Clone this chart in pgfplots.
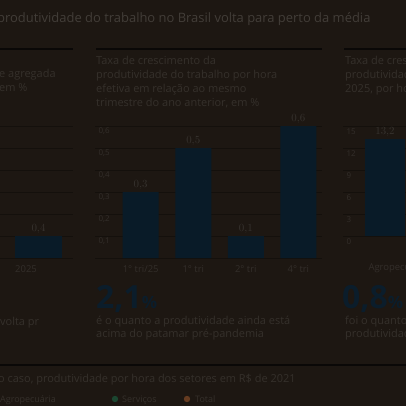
\documentclass[border=0pt]{standalone}
\usepackage{pgfplots}
\pgfplotsset{compat=1.18}
\usepackage{fontspec}
\setmainfont{Open Sans}
\definecolor{bg}{HTML}{1D1712}
\definecolor{gridc}{HTML}{14100C}
\definecolor{rulec}{HTML}{0A0807}
\definecolor{titlec}{HTML}{423D38}
\definecolor{textc}{HTML}{35302B}
\definecolor{tickc}{HTML}{332E2A}
\definecolor{valc}{HTML}{37332F}
\definecolor{barc}{HTML}{091B28}
\definecolor{bigc}{HTML}{0B1D2B}
\definecolor{greenc}{HTML}{1B4630}
\definecolor{orangec}{HTML}{653B20}
\newcommand{\T}[4][]{\node[anchor=base west,inner sep=0,text=textc,font=\fontsize{11}{13}\selectfont,#1] at (#2bp,-#3bp) {#4};}
\newcommand{\R}[4]{\fill[rulec] (#1bp,-#2bp) rectangle (#3bp,-#4bp);}
\pgfplotsset{panel/.style={scale only axis, clip=false,
  axis line style={draw=none}, major tick style={draw=none},
  ymajorgrids, grid style={gridc, line width=0.9bp},
  ybar,
  yticklabel style={anchor=west, yshift=-5.5bp, font=\fontsize{8}{9}\selectfont, text=tickc},
  xticklabel style={font=\fontsize{9.5}{10}\selectfont, text=tickc},
  nodes near coords={\pgfmathprintnumber[use comma,fixed,fixed zerofill,precision=1]{\pgfplotspointmeta}},
  every node near coord/.append style={font=\fontsize{11}{12}\selectfont, text=valc, inner sep=2bp}}}
\begin{document}
\begin{tikzpicture}
\useasboundingbox (0,0) rectangle (406bp,-406bp);
\clip (0,0) rectangle (406bp,-406bp);
\fill[bg] (0,0) rectangle (406bp,-406bp);
% title
\T[text=titlec,font=\fontsize{13}{15}\selectfont]{-3}{22}{produtividade do trabalho no Brasil volta para perto da média}
% top rules
\R{0}{47.5}{73}{49.8}
\R{96}{47.5}{322}{49.8}
\R{344}{47.5}{406}{49.8}
% left panel texts
\T{-1}{77}{e agregada}
\T{-1}{91}{em \%}
% middle panel texts
\T{96}{64}{Taxa de crescimento da}
\T{96}{78}{produtividade do trabalho por hora}
\T{96}{92}{efetiva em relação ao mesmo}
\T{96}{106}{trimestre do ano anterior, em \%}
% right panel texts
\T{345}{64}{Taxa de crescimento da}
\T{345}{78}{produtividade por setor em}
\T{345}{92}{2025, por hora, em \%}
% left axis
\begin{axis}[panel, at={(-50bp,-258bp)}, anchor=south west, width=123bp, height=132bp,
  xmin=0, xmax=123, ymin=0, ymax=2.4, ytick={0,0.4,0.8,1.2,1.6,2.0,2.4}, yticklabels={},
  xtick={76}, xticklabels={2025}, bar width=47bp]
\addplot[fill=barc, draw=none] coordinates {(88.5,0.4)};
\end{axis}
% middle axis
\begin{axis}[panel, at={(95bp,-258bp)}, anchor=south west, width=227bp, height=132bp,
  xmin=-0.87, xmax=3.45, ymin=0, ymax=0.6,
  ytick={0,0.1,0.2,0.3,0.4,0.5,0.6},
  yticklabels={{},{0,1},{0,2},{0,3},{0,4},{0,5},{0,6}},
  xtick={0,1,2,3}, xticklabels={1° tri/25, 1° tri, 2° tri, 4° tri}, bar width=36bp]
\addplot[fill=barc, draw=none] coordinates {(0,0.3) (1,0.5) (2,0.1) (3,0.6)};
\end{axis}
% right axis
\begin{axis}[panel, at={(343bp,-236bp)}, anchor=south west, width=100bp, height=110bp,
  xmin=0, xmax=1, ymin=0, ymax=15,
  ytick={0,3,6,9,12,15}, yticklabels={0,3,6,9,12,15},
  xtick={0.42}, xticklabels={Agropecuária},
  xticklabel style={anchor=north west, xshift=-20bp, yshift=-19bp}, bar width=40bp]
\addplot[fill=barc, draw=none] coordinates {(0.42,13.2)};
\end{axis}
% big numbers
\T[text=bigc,font=\fontsize{32}{34}\selectfont\bfseries]{96}{308}{2,1\fontsize{17}{18}\selectfont\%}
\T[text=bigc,font=\fontsize{32}{34}\selectfont\bfseries]{342}{308}{0,8\fontsize{17}{18}\selectfont\%}
\T{0}{325}{volta pr}
\T{96}{324}{é o quanto a produtividade ainda está}
\T{96}{337}{acima do patamar pré-pandemia}
\T{345}{324}{foi o quanto a}
\T{345}{337}{produtividade do setor}
% bottom
\R{0}{364}{406}{366.3}
\T{-2}{382}{o caso, produtividade por hora dos setores em R\$ de 2021}
\T[font=\fontsize{9}{10}\selectfont]{0}{402}{Agropecuária}
\fill[greenc] (115bp,-399bp) circle (3.2bp);
\T[font=\fontsize{9}{10}\selectfont]{122}{402}{Serviços}
\fill[orangec] (187bp,-399bp) circle (3.2bp);
\T[font=\fontsize{9}{10}\selectfont]{195}{402}{Total}
\end{tikzpicture}
\end{document}
